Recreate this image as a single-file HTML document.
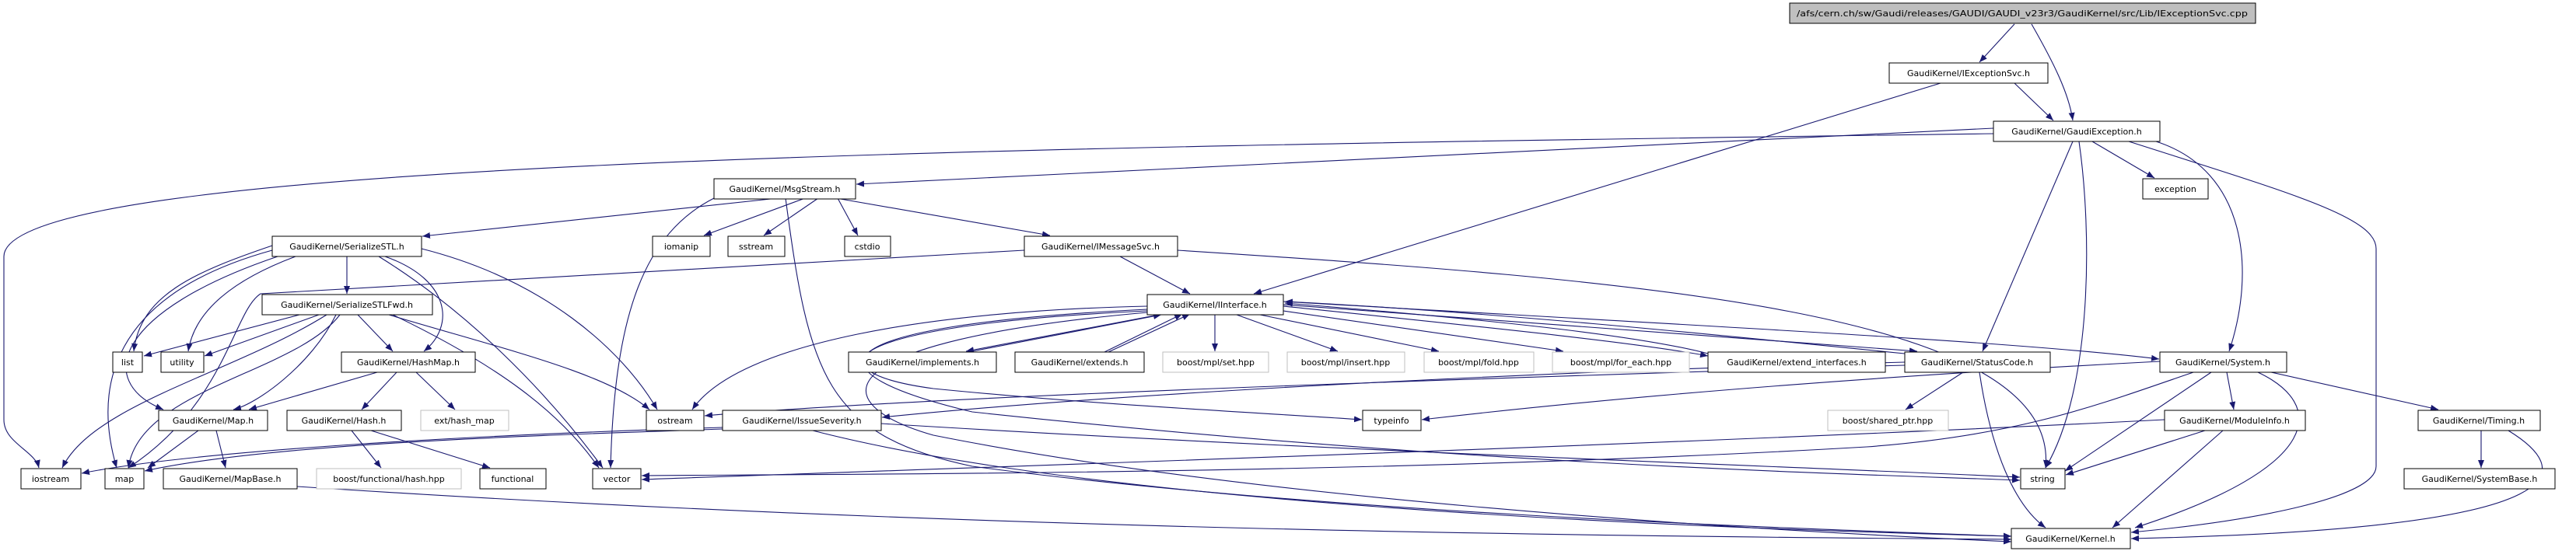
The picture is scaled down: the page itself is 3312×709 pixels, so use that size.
<!DOCTYPE html>
<html><head><meta charset="utf-8"><style>
html,body{margin:0;padding:0;background:#fff;}
svg{display:block;}
text{font-family:"DejaVu Sans","Liberation Sans",sans-serif;font-size:11px;fill:#000;}
</style></head><body>
<svg width="3312" height="709" viewBox="0 0 3312 709" xmlns="http://www.w3.org/2000/svg">
<defs>
<marker id="a" markerWidth="10" markerHeight="8" refX="10" refY="4" orient="auto" markerUnits="userSpaceOnUse">
<path d="M0,0 L10,4 L0,8 z" fill="#191970"/>
</marker>
</defs>
<g fill="none" stroke="#191970" stroke-width="1.1" marker-end="url(#a)">
<path d="M2590,31 L2545,80"/>
<path d="M2612,31 C2640,80 2660,120 2665,155"/>
<path d="M2590,107 L2640,155"/>
<path d="M2495,107 L1612,378"/>
<path d="M2563,172 C1200,190 5,210 5,330 L5,540 C5,570 45,580 50,602"/>
<path d="M2563,165 L1101,237"/>
<path d="M2690,182 L2770,229"/>
<path d="M2665,182 L2549,452"/>
<path d="M2673,182 C2690,300 2690,500 2630,602"/>
<path d="M2772,182 C2890,220 2900,350 2866,452"/>
<path d="M2737,182 C2950,250 3055,280 3055,320 L3055,600 C3055,640 2900,670 2740,685"/>
<path d="M1000,255 L543,304"/>
<path d="M1035,255 L905,303"/>
<path d="M1052,255 L982,303"/>
<path d="M1077,255 L1103,303"/>
<path d="M1075,255 L1350,303"/>
<path d="M918,255 C830,300 790,400 785,602"/>
<path d="M1010,255 C1040,480 1060,560 1250,600 C1700,660 2300,680 2586,690"/>
<path d="M446,330 L446,378"/>
<path d="M350,316 C250,350 180,380 172,452"/>
<path d="M380,330 C300,360 250,400 242,452"/>
<path d="M350,322 C140,380 120,500 150,602"/>
<path d="M357,330 C150,400 120,490 210,527"/>
<path d="M495,330 C580,360 585,420 545,452"/>
<path d="M487,330 C600,400 700,500 775,602"/>
<path d="M542,320 C700,360 800,450 845,527"/>
<path d="M385,405 L185,458"/>
<path d="M410,405 L263,458"/>
<path d="M432,405 C400,470 330,520 300,527"/>
<path d="M460,405 L505,452"/>
<path d="M437,405 C380,480 180,500 165,602"/>
<path d="M420,405 C300,480 120,520 80,602"/>
<path d="M500,405 C650,450 780,480 835,527"/>
<path d="M505,405 C640,470 720,530 770,602"/>
<path d="M1317,322 L335,378 C300,400 290,520 165,602"/>
<path d="M1440,330 L1530,378"/>
<path d="M1514,322 C2100,360 2650,400 2630,602"/>
<path d="M485,479 L320,527"/>
<path d="M510,479 L465,527"/>
<path d="M535,479 L585,527"/>
<path d="M255,554 L190,602"/>
<path d="M278,554 L290,602"/>
<path d="M452,554 L490,602"/>
<path d="M477,554 L630,602"/>
<path d="M382,626 C1200,680 2000,690 2586,694"/>
<path d="M929,552 C700,560 350,570 186,606"/>
<path d="M929,550 C600,560 250,580 105,609"/>
<path d="M1045,554 C1300,620 1800,670 2586,690"/>
<path d="M1133,545 C1700,580 2300,600 2597,614"/>
<path d="M1490,405 L1242,452"/>
<path d="M1245,453 L1493,405"/>
<path d="M1420,453 L1520,404"/>
<path d="M1425,453 L1530,404"/>
<path d="M1562,405 L1562,452"/>
<path d="M1590,405 L1720,452"/>
<path d="M1620,405 L1850,452"/>
<path d="M1650,400 L2010,452"/>
<path d="M1650,394 C1900,420 2100,440 2196,458"/>
<path d="M2196,455 C2100,430 1900,410 1652,390"/>
<path d="M1650,392 C2000,420 2300,440 2465,452"/>
<path d="M2449,455 C2200,430 1900,400 1652,388"/>
<path d="M1650,388 C2200,420 2600,440 2776,462"/>
<path d="M1475,394 C1200,400 950,440 890,527"/>
<path d="M1475,400 C1050,420 1050,480 1200,500 C1400,520 1600,530 1751,540"/>
<path d="M1475,398 C1030,420 1040,480 1250,530 C1900,600 2400,610 2597,618"/>
<path d="M1475,402 C1050,440 1060,520 1200,560 C1600,640 2200,680 2586,697"/>
<path d="M2449,470 C1800,490 1200,510 906,535"/>
<path d="M2449,466 C1900,480 1400,510 1134,537"/>
<path d="M2524,479 L2450,527"/>
<path d="M2545,479 C2560,580 2590,650 2630,679"/>
<path d="M2777,465 C2300,490 2000,520 1828,540"/>
<path d="M2820,479 C2700,520 2600,560 2400,575 C1800,610 1100,610 825,612"/>
<path d="M2843,479 L2655,606"/>
<path d="M2863,479 L2872,527"/>
<path d="M2903,479 C2990,520 2990,600 2745,679"/>
<path d="M2920,479 L3135,527"/>
<path d="M2783,540 C2200,570 1300,600 825,617"/>
<path d="M2835,554 L2656,611"/>
<path d="M2858,554 L2716,679"/>
<path d="M3190,554 L3190,602"/>
<path d="M3225,554 C3300,600 3350,680 2740,693"/>
</g>
<g stroke-width="1">
<rect x="2301" y="4" width="599" height="26" fill="#bfbfbf" stroke="#000"/>
<text x="2600" y="21" text-anchor="middle" textLength="580" lengthAdjust="spacingAndGlyphs">/afs/cern.ch/sw/Gaudi/releases/GAUDI/GAUDI_v23r3/GaudiKernel/src/Lib/IExceptionSvc.cpp</text>
</g>
<g fill="#fff" stroke="#000" stroke-width="1">
<rect x="2429" y="81" width="204" height="26"/>
<rect x="2563" y="156" width="214" height="26"/>
<rect x="2755" y="230" width="84" height="26"/>
<rect x="918" y="230" width="182" height="26"/>
<rect x="350" y="304" width="192" height="26"/>
<rect x="839" y="304" width="74" height="26"/>
<rect x="936" y="304" width="73" height="26"/>
<rect x="1086" y="304" width="59" height="26"/>
<rect x="1317" y="304" width="197" height="26"/>
<rect x="337" y="379" width="219" height="26"/>
<rect x="1475" y="379" width="175" height="26"/>
<rect x="145" y="453" width="38" height="26"/>
<rect x="207" y="453" width="55" height="26"/>
<rect x="439" y="453" width="172" height="26"/>
<rect x="1091" y="453" width="190" height="26"/>
<rect x="1305" y="453" width="166" height="26"/>
<rect x="2196" y="453" width="228" height="26"/>
<rect x="2449" y="453" width="187" height="26"/>
<rect x="2777" y="453" width="163" height="26"/>
<rect x="204" y="528" width="140" height="26"/>
<rect x="369" y="528" width="147" height="26"/>
<rect x="831" y="528" width="74" height="26"/>
<rect x="929" y="528" width="204" height="26"/>
<rect x="1752" y="528" width="75" height="26"/>
<rect x="2783" y="528" width="181" height="26"/>
<rect x="3109" y="528" width="157" height="26"/>
<rect x="27" y="603" width="77" height="26"/>
<rect x="135" y="603" width="50" height="26"/>
<rect x="210" y="603" width="172" height="26"/>
<rect x="617" y="603" width="85" height="26"/>
<rect x="762" y="603" width="62" height="26"/>
<rect x="2598" y="603" width="57" height="26"/>
<rect x="3091" y="603" width="194" height="26"/>
<rect x="2586" y="680" width="153" height="26"/>
</g>
<g fill="#fff" stroke="#bfbfbf" stroke-width="1">
<rect x="1495" y="453" width="136" height="26"/>
<rect x="1655" y="453" width="151" height="26"/>
<rect x="1831" y="453" width="141" height="26"/>
<rect x="1996" y="453" width="176" height="26"/>
<rect x="541" y="528" width="113" height="26"/>
<rect x="2350" y="528" width="155" height="26"/>
<rect x="407" y="603" width="186" height="26"/>
</g>
<g text-anchor="middle">
<text x="2531" y="98">GaudiKernel/IExceptionSvc.h</text>
<text x="2670" y="173">GaudiKernel/GaudiException.h</text>
<text x="2797" y="247">exception</text>
<text x="1009" y="247">GaudiKernel/MsgStream.h</text>
<text x="446" y="321">GaudiKernel/SerializeSTL.h</text>
<text x="876" y="321">iomanip</text>
<text x="972" y="321">sstream</text>
<text x="1115" y="321">cstdio</text>
<text x="1415" y="321">GaudiKernel/IMessageSvc.h</text>
<text x="446" y="396">GaudiKernel/SerializeSTLFwd.h</text>
<text x="1562" y="396">GaudiKernel/IInterface.h</text>
<text x="164" y="470">list</text>
<text x="234" y="470">utility</text>
<text x="525" y="470">GaudiKernel/HashMap.h</text>
<text x="1186" y="470">GaudiKernel/implements.h</text>
<text x="1388" y="470">GaudiKernel/extends.h</text>
<text x="1563" y="470">boost/mpl/set.hpp</text>
<text x="1730" y="470">boost/mpl/insert.hpp</text>
<text x="1901" y="470">boost/mpl/fold.hpp</text>
<text x="2084" y="470">boost/mpl/for_each.hpp</text>
<text x="2310" y="470">GaudiKernel/extend_interfaces.h</text>
<text x="2542" y="470">GaudiKernel/StatusCode.h</text>
<text x="2858" y="470">GaudiKernel/System.h</text>
<text x="274" y="545">GaudiKernel/Map.h</text>
<text x="442" y="545">GaudiKernel/Hash.h</text>
<text x="597" y="545">ext/hash_map</text>
<text x="868" y="545">ostream</text>
<text x="1031" y="545">GaudiKernel/IssueSeverity.h</text>
<text x="1789" y="545">typeinfo</text>
<text x="2427" y="545">boost/shared_ptr.hpp</text>
<text x="2873" y="545">GaudiKernel/ModuleInfo.h</text>
<text x="3187" y="545">GaudiKernel/Timing.h</text>
<text x="65" y="620">iostream</text>
<text x="160" y="620">map</text>
<text x="296" y="620">GaudiKernel/MapBase.h</text>
<text x="500" y="620">boost/functional/hash.hpp</text>
<text x="659" y="620">functional</text>
<text x="793" y="620">vector</text>
<text x="2626" y="620">string</text>
<text x="3188" y="620">GaudiKernel/SystemBase.h</text>
<text x="2662" y="697">GaudiKernel/Kernel.h</text>
</g>
</svg>
</body></html>
